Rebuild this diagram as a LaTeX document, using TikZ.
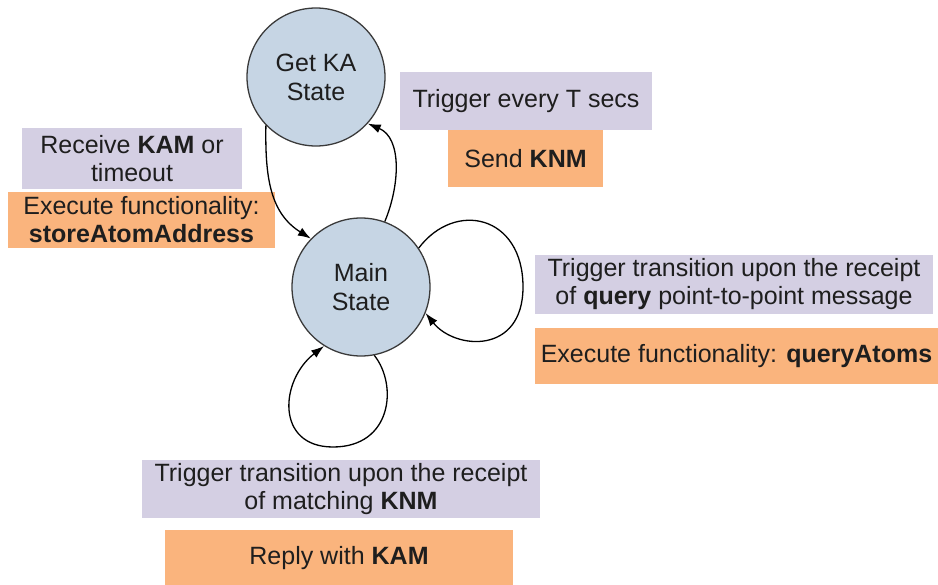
\documentclass[tikz,border=0pt]{standalone}
\usepackage{fontspec}
\setmainfont{Liberation Sans}
\usetikzlibrary{arrows.meta}
\definecolor{statefill}{HTML}{C6D5E4}
\definecolor{stateline}{HTML}{3A3A3A}
\definecolor{condfill}{HTML}{D4CFE3}
\definecolor{actfill}{HTML}{FAB47D}
\definecolor{inktext}{HTML}{1E1E1E}
\tikzset{
  state/.style={circle, draw=stateline, line width=1.3pt, fill=statefill,
    minimum size=138pt, inner sep=0pt, align=center, text=inktext,
    font=\fontsize{25}{29}\selectfont},
  labelbox/.style={rectangle, inner sep=0pt, align=center, text=inktext,
    font=\fontsize{25}{28}\selectfont},
  condbox/.style={labelbox, fill=condfill},
  actbox/.style={labelbox, fill=actfill},
  trans/.style={draw=black, line width=1.3pt,
    -{Latex[length=13pt,width=9pt]}}
}
\begin{document}
\begin{tikzpicture}[x=1pt,y=-1pt]
\useasboundingbox (0,0) rectangle (938,585);

% states
\node[state] (ka) at (316,77) {Get KA\\State};
\node[state] (main) at (361,287) {Main\\State};

% transition labels
\node[condbox, minimum width=252pt, minimum height=58pt] (tcond) at (526,101) {Trigger every T secs};
\node[actbox, minimum width=155pt, minimum height=57pt] (tact) at (525.5,158.5) {Send \textbf{KNM}};

\node[condbox, minimum width=220pt, minimum height=61pt] (rcond) at (132,158.5) {Receive \textbf{KAM} or\\timeout};
\node[actbox, minimum width=267pt, minimum height=56pt] (ract) at (141.5,220) {Execute functionality:\\\textbf{storeAtomAddress}};

\node[condbox, minimum width=398pt, minimum height=59pt] (qcond) at (734,284.5) {Trigger transition upon the receipt\\of \textbf{query} point-to-point message};
\node[actbox, minimum width=403pt, minimum height=56pt] (qact) at (736.5,356) {Execute functionality: \textbf{queryAtoms}};

\node[condbox, minimum width=398pt, minimum height=58pt] (kcond) at (341,489) {Trigger transition upon the receipt\\of matching \textbf{KNM}};
\node[actbox, minimum width=348pt, minimum height=57pt] (kact) at (339,558.5) {Reply with \textbf{KAM}};

% loop turning points
\coordinate (qturn) at (523,287);
\coordinate (kturn) at (333,447);

% transitions
\draw[trans] (ka.224) .. controls (265,177) and (270,213) .. (main.136);
\draw[trans] (main.70) .. controls (400,185) and (402,138) .. (ka.-42);
\draw[trans] (main.34) .. controls (455,200) and (523,215) .. (qturn)
  .. controls (523,355) and (455,350) .. (main.-22);
\draw[trans] (main.-79) .. controls (398,385) and (392,447) .. (kturn)
  .. controls (275,447) and (280,380) .. (main.-122);
\end{tikzpicture}
\end{document}
